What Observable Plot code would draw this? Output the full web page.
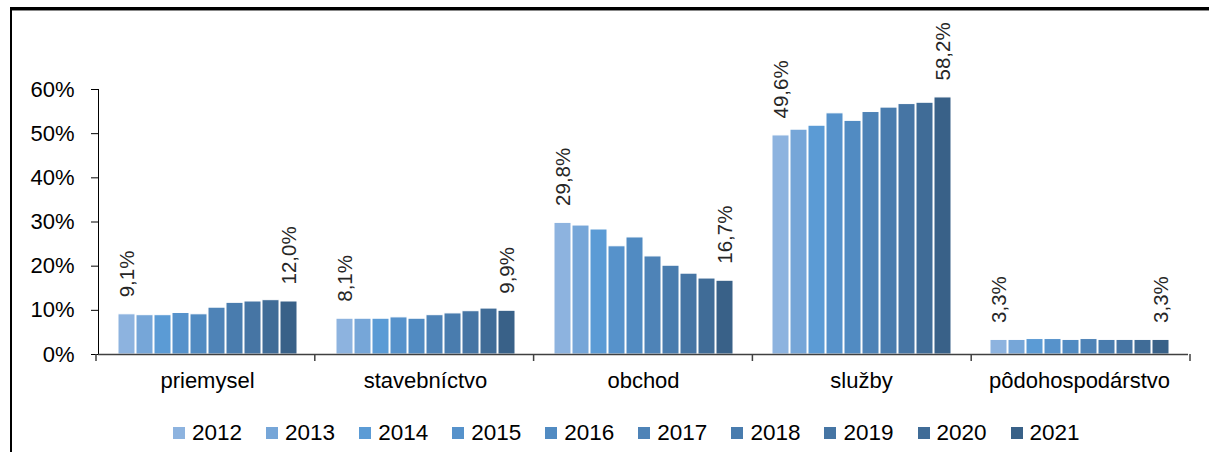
<!DOCTYPE html>
<html>
<head>
<meta charset="utf-8">
<script src="https://cdn.jsdelivr.net/npm/d3@7"></script>
<script src="https://cdn.jsdelivr.net/npm/@observablehq/plot@0.6"></script>
<style>
  html, body { margin: 0; padding: 0; background: #fff; }
  body { width: 1209px; height: 452px; position: relative; overflow: hidden; font-family: "Liberation Sans", Arial, sans-serif; }
  #frame { position: absolute; left: 10px; top: 7px; width: 1220px; height: 460px; border-left: 2px solid #000; border-top: 3px solid #000; box-shadow: inset 0 1px 0 #888; }
  #chart { position: absolute; left: 0; top: 0; }
  #legend { position: absolute; left: 173px; top: 420px; display: flex; align-items: center; font-size: 22.5px; color: #000; }
  .item { display: flex; align-items: center; margin-right: 24px; }
  .sw { width: 12px; height: 12px; margin-right: 7px; }
</style>
</head>
<body>
<div id="frame"></div>
<div id="chart"></div>
<div id="legend"></div>
<script>
const categories = ["priemysel", "stavebníctvo", "obchod", "služby", "pôdohospodárstvo"];
const years = ["2012", "2013", "2014", "2015", "2016", "2017", "2018", "2019", "2020", "2021"];
const priemysel    = [9.1, 8.9, 8.9, 9.4, 9.1, 10.6, 11.7, 12.0, 12.3, 12.0];
const stavebnictvo = [8.1, 8.1, 8.1, 8.4, 8.1, 8.9, 9.3, 9.8, 10.4, 9.9];
const obchod       = [29.8, 29.2, 28.3, 24.5, 26.5, 22.2, 20.1, 18.3, 17.2, 16.7];
const sluzby       = [49.6, 50.9, 51.8, 54.6, 52.9, 54.9, 55.9, 56.7, 57.0, 58.2];
const podohosp     = [3.3, 3.3, 3.5, 3.5, 3.3, 3.5, 3.3, 3.3, 3.3, 3.3];
const colors = ["#8DB3DF", "#76A6D8", "#5B9BD5", "#5692CB", "#518BC2", "#4E83B7", "#497CAE", "#4675A4", "#406C97", "#396188"];
const yTicks = [0, 10, 20, 30, 40, 50, 60];
const labeledYears = ["2012", "2021"];

const series = [priemysel, stavebnictvo, obchod, sluzby, podohosp];
const data = [];
categories.forEach((c, i) => years.forEach((y, j) => data.push({cat: c, year: y, value: series[i][j]})));
const fmt = v => v.toFixed(1).replace(".", ",") + "%";

const chart = Plot.plot({
  width: 1209,
  height: 400,
  marginLeft: 96,
  marginRight: 19,
  marginTop: 89,
  marginBottom: 46,
  style: {fontFamily: "Liberation Sans, Arial, sans-serif", fontSize: "22px", color: "#000", background: "transparent"},
  fx: {domain: categories, padding: 0, axis: "bottom", tickSize: 0, tickPadding: 18, label: null, fontSize: 22},
  x: {domain: years, paddingInner: 0.08, paddingOuter: 0.96, axis: null},
  y: {domain: [0, 60], ticks: yTicks, tickSize: 7, tickPadding: 17, tickFormat: d => d + "%", label: null, line: true, grid: false},
  color: {domain: years, range: colors},
  marks: [
    Plot.barY(data, {fx: "cat", x: "year", y: "value", fill: "year", stroke: "#fff", strokeWidth: 1}),
    Plot.text(data.filter(d => labeledYears.includes(d.year)), {
      fx: "cat", x: "year", y: "value", text: d => fmt(d.value),
      rotate: -90, textAnchor: "start", dy: -17, fontSize: 20.5, fill: "#262626"
    }),
    Plot.ruleY([0], {stroke: "#404040", strokeWidth: 1.5})
  ]
});
document.getElementById("chart").appendChild(chart);

// boundary ticks at category band edges, from the plot's scales
const sfx = chart.scale("fx");
const sy = chart.scale("y");
const band = d3.scaleBand(sfx.domain, sfx.range).paddingInner(0).paddingOuter(0);
const yScale = d3.scaleLinear(sy.domain, sy.range);
const y0 = yScale(0);
const svg = d3.select(chart.tagName.toLowerCase() === "svg" ? chart : chart.querySelector("svg"));
const edges = categories.map(c => band(c)).concat([band(categories[categories.length - 1]) + band.step()]);
svg.append("g").selectAll("line").data(edges).join("line")
  .attr("x1", d => d).attr("x2", d => d)
  .attr("y1", y0).attr("y2", y0 + 7)
  .attr("stroke", "#404040").attr("stroke-width", 1.5);
svg.selectAll("[aria-label='y-axis tick'], [aria-label='y-axis line']").attr("stroke", "#404040");

// legend
const legend = document.getElementById("legend");
years.forEach((y, i) => {
  const it = document.createElement("div");
  it.className = "item";
  it.innerHTML = `<span class="sw" style="background:${colors[i]}"></span><span>${y}</span>`;
  legend.appendChild(it);
});
</script>
</body>
</html>
